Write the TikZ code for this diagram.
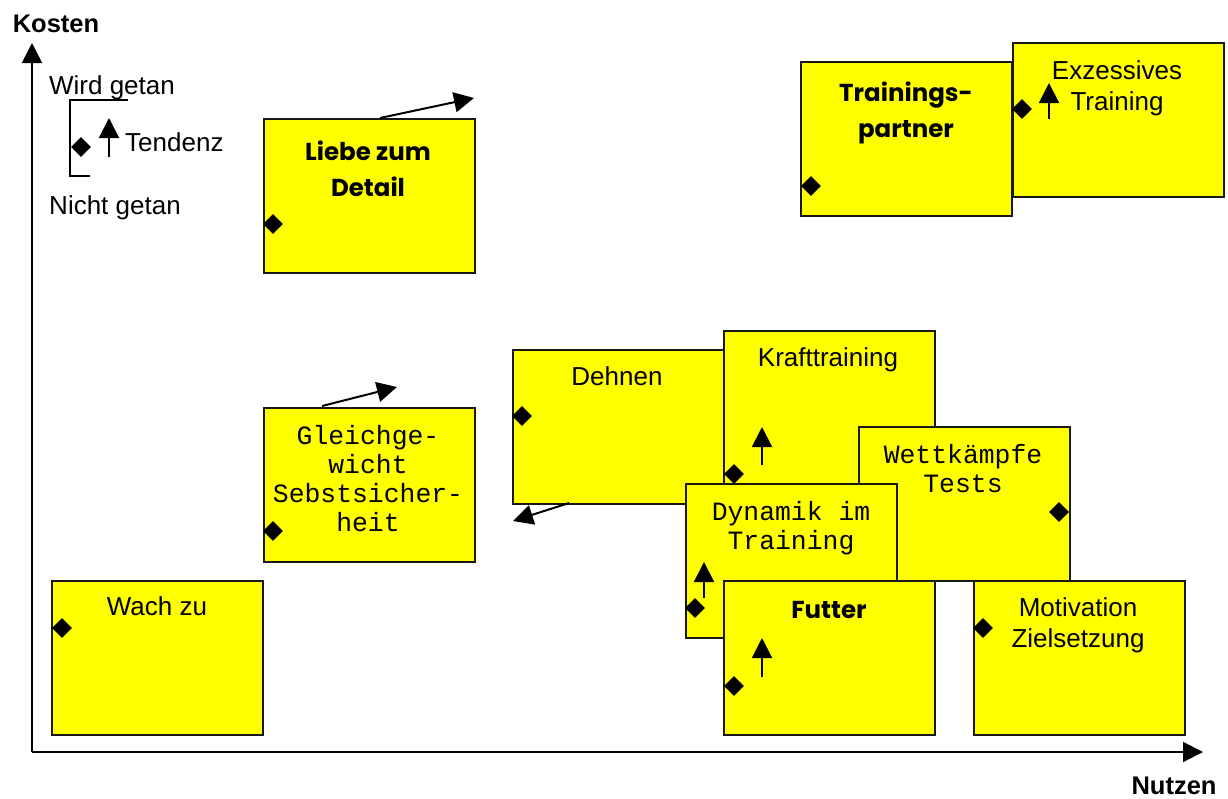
\documentclass[tikz,border=0pt]{standalone}
\usepackage{fontspec}
\setmainfont{Liberation Sans}
\newfontfamily\handfont{Poppins}
\newfontfamily\typefont{Liberation Mono}
\usetikzlibrary{arrows.meta,shapes.geometric}
\definecolor{cardyellow}{RGB}{255,255,0}
\definecolor{cardedge}{RGB}{25,25,25}

\begin{document}
\begin{tikzpicture}[x=1pt,y=-1pt,
  card/.style={rectangle, draw=cardedge, line width=1.8pt, fill=cardyellow,
    minimum width=211pt, minimum height=154pt, inner sep=0pt, anchor=north west},
  sans/.style={inner sep=0pt, align=center, anchor=north,
    font=\fontsize{26pt}{31.6pt}\selectfont},
  hand/.style={inner sep=0pt, align=center, anchor=north,
    font=\handfont\bfseries\fontsize{24.5pt}{36pt}\selectfont},
  typew/.style={inner sep=0pt, align=center, anchor=north,
    font=\typefont\fontsize{26.4pt}{29pt}\selectfont},
  dia/.style={diamond, fill=black, inner sep=0pt, minimum width=20pt, minimum height=20pt},
  trend/.style={-{Triangle[width=20pt,length=20pt]}, line width=2pt},
  axis/.style={-{Triangle[width=20pt,length=20pt]}, line width=2pt}
]
\useasboundingbox (0,0) rectangle (1228,798);

% axes
\coordinate (origin) at (32,752);
\coordinate (ytip) at (32,43);
\coordinate (xtip) at (1203,752);
\draw[axis] (origin) -- (ytip);
\draw[axis] (origin) -- (xtip);
\node[inner sep=0pt, anchor=north, font=\fontsize{25.5pt}{30pt}\selectfont\bfseries] (kosten) at (56,15) {Kosten};
\node[inner sep=0pt, anchor=north, font=\fontsize{25.5pt}{30pt}\selectfont\bfseries] (nutzen) at (1174,777) {Nutzen};

% legend
\node[sans] (wird) at (112,75) {Wird getan};
\node[sans] (nicht) at (115,195) {Nicht getan};
\node[sans, anchor=north west] (tendenz) at (125,132) {Tendenz};
\coordinate (brA) at (128,100);
\coordinate (brB) at (70,100);
\coordinate (brC) at (70,176);
\coordinate (brD) at (90,176);
\draw[line width=1.8pt] (brA) -- (brB) -- (brC) -- (brD);
\node[dia] (legdia) at (81,147) {};
\coordinate (legA) at (109,157);
\coordinate (legB) at (109,118);
\draw[trend] (legA) -- (legB);

% Liebe zum Detail
\node[card] (liebe) at (263,118) {};
\node[hand] (liebeT) at (368,141) {Liebe zum\\Detail};
\node[dia] (liebeD) at (273,224) {};
\coordinate (liebeA) at (380,118);
\coordinate (liebeB) at (474,98);
\draw[trend] (liebeA) -- (liebeB);

% Gleichgewicht
\node[card] (gleich) at (263,407) {};
\node[typew] (gleichT) at (368,425) {Gleichge-\\wicht\\Sebstsicher-\\heit};
\node[dia] (gleichD) at (273,531) {};
\coordinate (gleichA) at (322,406);
\coordinate (gleichB) at (397,387);
\draw[trend] (gleichA) -- (gleichB);

% Wach zu
\node[card] (wach) at (51,580) {};
\node[sans] (wachT) at (157,596) {Wach zu};
\node[dia] (wachD) at (62,628) {};

% Trainingspartner
\node[card] (partner) at (800,61) {};
\node[hand] (partnerT) at (906,82) {Trainings-\\partner};
\node[dia] (partnerD) at (811,186) {};

% Exzessives Training
\node[card] (exz) at (1012,42) {};
\node[sans] (exzT) at (1117,60) {Exzessives\\Training};
\node[dia] (exzD) at (1022,109) {};
\coordinate (exzA) at (1049,119);
\coordinate (exzB) at (1049,83);
\draw[trend] (exzA) -- (exzB);

% Dehnen
\node[card] (dehnen) at (512,349) {};
\node[sans] (dehnenT) at (617,366) {Dehnen};
\node[dia] (dehnenD) at (522,416) {};
\coordinate (dehnenA) at (569,503);
\coordinate (dehnenB) at (513,521);
\draw[trend] (dehnenA) -- (dehnenB);

% Krafttraining
\node[card] (kraft) at (723,330) {};
\node[sans] (kraftT) at (828,347) {Krafttraining};
\node[dia] (kraftD) at (734,474) {};
\coordinate (kraftA) at (762,465);
\coordinate (kraftB) at (762,427);
\draw[trend] (kraftA) -- (kraftB);

% Wettkaempfe Tests
\node[card] (wett) at (858,426) {};
\node[typew] (wettT) at (963,444) {Wettkämpfe\\Tests};
\node[dia] (wettD) at (1059,512) {};

% Dynamik im Training
\node[card] (dyn) at (685,483) {};
\node[typew] (dynT) at (791,501) {Dynamik im\\Training};
\node[dia] (dynD) at (695,608) {};
\coordinate (dynA) at (704,598);
\coordinate (dynB) at (704,562);
\draw[trend] (dynA) -- (dynB);

% Futter
\node[card] (futter) at (723,580) {};
\node[hand] (futterT) at (829,601) {Futter};
\node[dia] (futterD) at (734,686) {};
\coordinate (futterA) at (762,677);
\coordinate (futterB) at (762,638);
\draw[trend] (futterA) -- (futterB);

% Motivation Zielsetzung
\node[card] (motiv) at (973,580) {};
\node[sans] (motivT) at (1078,597) {Motivation\\Zielsetzung};
\node[dia] (motivD) at (983,628) {};

\end{tikzpicture}
\end{document}
